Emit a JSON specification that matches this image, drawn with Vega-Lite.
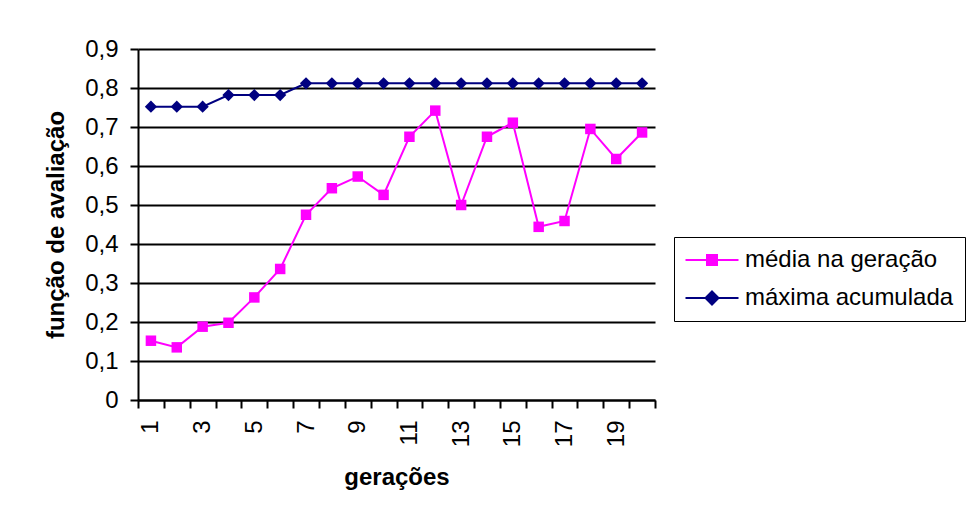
{
  "$schema": "https://vega.github.io/schema/vega-lite/v6.json",
  "autosize": {"type": "none"},
  "width": 517,
  "height": 351,
  "padding": {"left": 138, "top": 49, "right": 322, "bottom": 112},
  "background": "white",
  "config": {
    "view": {"stroke": null},
    "font": "Liberation Sans"
  },
  "data": {
    "values": [
      {"g": 1, "serie": "média na geração", "v": 0.152},
      {"g": 2, "serie": "média na geração", "v": 0.135},
      {"g": 3, "serie": "média na geração", "v": 0.188},
      {"g": 4, "serie": "média na geração", "v": 0.198},
      {"g": 5, "serie": "média na geração", "v": 0.263},
      {"g": 6, "serie": "média na geração", "v": 0.336},
      {"g": 7, "serie": "média na geração", "v": 0.475},
      {"g": 8, "serie": "média na geração", "v": 0.543},
      {"g": 9, "serie": "média na geração", "v": 0.573},
      {"g": 10, "serie": "média na geração", "v": 0.526},
      {"g": 11, "serie": "média na geração", "v": 0.675},
      {"g": 12, "serie": "média na geração", "v": 0.742},
      {"g": 13, "serie": "média na geração", "v": 0.5},
      {"g": 14, "serie": "média na geração", "v": 0.675},
      {"g": 15, "serie": "média na geração", "v": 0.711},
      {"g": 16, "serie": "média na geração", "v": 0.444},
      {"g": 17, "serie": "média na geração", "v": 0.459},
      {"g": 18, "serie": "média na geração", "v": 0.695},
      {"g": 19, "serie": "média na geração", "v": 0.618},
      {"g": 20, "serie": "média na geração", "v": 0.686},
      {"g": 1, "serie": "máxima acumulada", "v": 0.752},
      {"g": 2, "serie": "máxima acumulada", "v": 0.752},
      {"g": 3, "serie": "máxima acumulada", "v": 0.752},
      {"g": 4, "serie": "máxima acumulada", "v": 0.782},
      {"g": 5, "serie": "máxima acumulada", "v": 0.782},
      {"g": 6, "serie": "máxima acumulada", "v": 0.782},
      {"g": 7, "serie": "máxima acumulada", "v": 0.812},
      {"g": 8, "serie": "máxima acumulada", "v": 0.812},
      {"g": 9, "serie": "máxima acumulada", "v": 0.812},
      {"g": 10, "serie": "máxima acumulada", "v": 0.812},
      {"g": 11, "serie": "máxima acumulada", "v": 0.812},
      {"g": 12, "serie": "máxima acumulada", "v": 0.812},
      {"g": 13, "serie": "máxima acumulada", "v": 0.812},
      {"g": 14, "serie": "máxima acumulada", "v": 0.812},
      {"g": 15, "serie": "máxima acumulada", "v": 0.812},
      {"g": 16, "serie": "máxima acumulada", "v": 0.812},
      {"g": 17, "serie": "máxima acumulada", "v": 0.812},
      {"g": 18, "serie": "máxima acumulada", "v": 0.812},
      {"g": 19, "serie": "máxima acumulada", "v": 0.812},
      {"g": 20, "serie": "máxima acumulada", "v": 0.812}
    ]
  },
  "encoding": {
    "x": {
      "field": "g",
      "type": "ordinal",
      "scale": {"paddingInner": 0, "paddingOuter": 0},
      "axis": {
        "title": "gerações",
        "titleFont": "Liberation Sans",
        "titleFontSize": 24,
        "titleFontWeight": "bold",
        "titleColor": "black",
        "titlePadding": 19,
        "labelAngle": -90,
        "labelFontSize": 24,
        "labelFont": "Liberation Sans",
        "labelColor": "black",
        "labelPadding": 12,
        "labelExpr": "datum.value % 2 == 1 ? datum.label : ''",
        "labelOverlap": false,
        "tickBand": "extent",
        "tickSize": 8,
        "tickWidth": 2,
        "tickColor": "black",
        "domainColor": "black",
        "domainWidth": 2,
        "grid": false
      }
    },
    "y": {
      "field": "v",
      "type": "quantitative",
      "scale": {"domain": [0, 0.9], "nice": false},
      "axis": {
        "title": "função de avaliação",
        "titleFont": "Liberation Sans",
        "titleFontSize": 24,
        "titleFontWeight": "bold",
        "titleColor": "black",
        "titlePadding": 16,
        "values": [0, 0.1, 0.2, 0.3, 0.4, 0.5, 0.6, 0.7, 0.8, 0.9],
        "labelExpr": "datum.value == 0 ? '0' : replace(format(datum.value, '.1f'), '.', ',')",
        "labelFontSize": 24,
        "labelFont": "Liberation Sans",
        "labelColor": "black",
        "labelPadding": 12,
        "tickSize": 8,
        "tickWidth": 2,
        "tickColor": "black",
        "domainColor": "black",
        "domainWidth": 2,
        "grid": true,
        "gridColor": "black",
        "gridWidth": 2,
        "gridOpacity": 1
      }
    },
    "color": {
      "field": "serie",
      "type": "nominal",
      "scale": {"domain": ["média na geração", "máxima acumulada"], "range": ["#FF00FF", "#000080"]},
      "legend": {
        "title": null,
        "orient": "none",
        "legendX": 536,
        "legendY": 188,
        "strokeColor": "black",
        "fillColor": "white",
        "padding": 11,
        "labelFontSize": 24,
        "labelFont": "Liberation Sans",
        "labelColor": "black",
        "labelLimit": 400,
        "labelOffset": 36,
        "rowPadding": 14,
        "symbolSize": 100,
        "symbolStrokeWidth": 2,
        "encode": {
          "symbols": {
            "update": {
              "shape": {"signal": "datum.value == 'média na geração' ? 'M-2.3,0H8.3M2,-1H4V1H2Z' : 'M-2.3,0H8.3M3,-1.3L4.3,0L3,1.3L1.7,0Z'"},
              "fill": {"signal": "datum.value == 'média na geração' ? '#FF00FF' : '#000080'"},
              "stroke": {"signal": "datum.value == 'média na geração' ? '#FF00FF' : '#000080'"},
              "strokeWidth": {"value": 2},
              "opacity": {"value": 1},
              "fillOpacity": {"value": 1},
              "size": {"value": 100}
            }
          }
        }
      }
    }
  },
  "layer": [
    {
      "mark": {"type": "line", "strokeWidth": 2}
    },
    {
      "transform": [{"filter": "datum.serie == 'média na geração'"}],
      "mark": {"type": "point", "filled": true, "opacity": 1, "shape": "square", "size": 110}
    },
    {
      "transform": [{"filter": "datum.serie == 'máxima acumulada'"}],
      "mark": {"type": "point", "filled": true, "opacity": 1, "shape": "diamond", "size": 150}
    }
  ]
}
